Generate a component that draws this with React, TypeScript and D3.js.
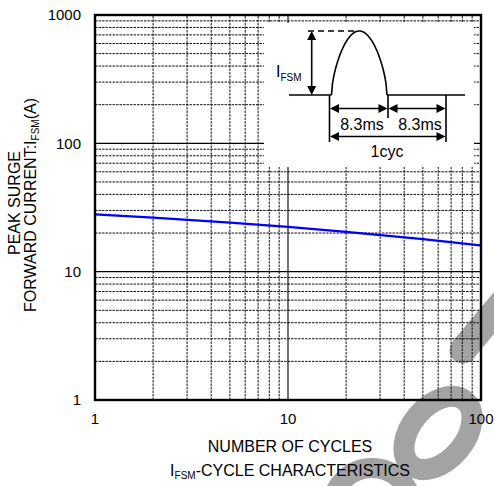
import React from "react";
import * as d3 from "d3";

const xDomain = [1, 100];
const yDomain = [1, 1000];
const xTicks = [1, 10, 100];
const yTicks = [1, 10, 100, 1000];
const cycles = [1, 2, 5, 10, 20, 50, 100];
const surgeCurrent = [28, 26.4, 24.1, 22.3, 20.4, 17.9, 16];

const W = 494;
const H = 486;
const font = "Arial, 'Liberation Sans', Helvetica, sans-serif";

function arrowHead(x: number, y: number, dir: "l" | "r" | "u" | "d", len = 9, half = 4.5) {
  if (dir === "r") return `M${x},${y}L${x - len},${y - half}L${x - len},${y + half}Z`;
  if (dir === "l") return `M${x},${y}L${x + len},${y - half}L${x + len},${y + half}Z`;
  if (dir === "u") return `M${x},${y}L${x - half},${y + len}L${x + half},${y + len}Z`;
  return `M${x},${y}L${x - half},${y - len}L${x + half},${y - len}Z`;
}

export default function App() {
  const x = d3.scaleLog().domain(xDomain).range([95, 481]);
  const y = d3.scaleLog().domain(yDomain).range([400, 15]);

  const minorX: number[] = [];
  for (const dec of [1, 10]) for (let k = 2; k <= 9; k++) minorX.push(dec * k);
  const minorY: number[] = [];
  for (const dec of [1, 10, 100]) for (let k = 2; k <= 9; k++) minorY.push(dec * k);

  const line = d3
    .line<number>()
    .x((_, i) => x(cycles[i]))
    .y((d) => y(d))
    .curve(d3.curveMonotoneX);

  const [x0, x1] = x.range();
  const [y0, y1] = y.range();

  // inset geometry
  const base = 95;
  const archL = 331.5, archR = 387, peakY = 31;
  const archPts: [number, number][] = [];
  for (let i = 0; i <= 60; i++) {
    const t = i / 60;
    const h = Math.pow(Math.sin(Math.PI * t), 0.6);
    archPts.push([archL + (archR - archL) * t, base - (base - peakY) * h]);
  }
  const arch = d3.line()(archPts) || "";
  const wm = "#a3a3a3";

  return (
    <svg width={W} height={H} style={{ position: "absolute", left: 0, top: 0, background: "#fff" }} fontFamily={font}>
      <rect x={0} y={0} width={W} height={H} fill="#fff" />
      {/* watermark */}
      <g fill="none" stroke={wm}>
        <ellipse cx={438} cy={433} rx={42} ry={27} transform="rotate(-50 438 433)" strokeWidth={21} />
        <line x1={463} y1={350} x2={505} y2={300} strokeWidth={27} strokeLinecap="round" />
        <circle cx={372} cy={508} r={40} strokeWidth={20} />
      </g>
      {/* minor grid */}
      {minorX.map((v) => (
        <line key={"mx" + v} x1={x(v)} x2={x(v)} y1={y0} y2={y1} stroke="#111" strokeWidth={1} strokeDasharray="2.5 1" />
      ))}
      {minorY.map((v) => (
        <line key={"my" + v} x1={x0} x2={x1} y1={y(v)} y2={y(v)} stroke="#111" strokeWidth={1} strokeDasharray="2.5 1" />
      ))}
      {/* major grid */}
      <line x1={x(10)} x2={x(10)} y1={y0} y2={y1} stroke="#000" strokeWidth={1.1} />
      {[10, 100].map((v) => (
        <line key={"My" + v} x1={x0} x2={x1} y1={y(v)} y2={y(v)} stroke="#000" strokeWidth={1.1} />
      ))}

      {/* inset white area */}
      <rect x={264} y={23} width={210} height={144} fill="#fff" />

      {/* data line */}
      <path d={line(surgeCurrent) || ""} fill="none" stroke="#0000ff" strokeWidth={2.3} />

      {/* frame */}
      <rect x={x0} y={y1} width={x1 - x0} height={y0 - y1} fill="none" stroke="#000" strokeWidth={2.4} />

      {/* inset drawing */}
      <g stroke="#000" fill="none" strokeWidth={1.6}>
        <line x1={289} x2={archL} y1={base} y2={base} />
        <line x1={archR} x2={465} y1={base} y2={base} />
        <path d={arch} />
        <line x1={308} x2={356} y1={peakY} y2={peakY} strokeDasharray="6 4" />
        <line x1={311.7} x2={311.7} y1={peakY + 6} y2={base - 6} />
        <line x1={329.5} x2={329.5} y1={base} y2={142} />
        <line x1={388} x2={388} y1={base} y2={118} />
        <line x1={446} x2={446} y1={base} y2={142} />
        <line x1={334} x2={383} y1={108.5} y2={108.5} />
        <line x1={393} x2={441} y1={108.5} y2={108.5} />
        <line x1={334} x2={441} y1={136.5} y2={136.5} />
      </g>
      <g fill="#000">
        <path d={arrowHead(311.7, peakY, "u")} />
        <path d={arrowHead(311.7, base, "d")} />
        <path d={arrowHead(330, 108.5, "l")} />
        <path d={arrowHead(387.5, 108.5, "r")} />
        <path d={arrowHead(388.5, 108.5, "l")} />
        <path d={arrowHead(445.5, 108.5, "r")} />
        <path d={arrowHead(330, 136.5, "l")} />
        <path d={arrowHead(445.5, 136.5, "r")} />
      </g>
      <text x={276} y={77} fontSize={16} fill="#000">
        I<tspan fontSize={10} dy={4}>FSM</tspan>
      </text>
      <text x={362} y={130} fontSize={16} textAnchor="middle" fill="#000">8.3ms</text>
      <text x={420} y={130} fontSize={16} textAnchor="middle" fill="#000">8.3ms</text>
      <text x={387} y={157} fontSize={16} textAnchor="middle" fill="#000">1cyc</text>

      {/* tick labels */}
      {yTicks.map((v) => (
        <text key={"yt" + v} x={81} y={y(v)} dy="0.35em" fontSize={15} textAnchor="end" fill="#000">
          {d3.format("d")(v)}
        </text>
      ))}
      {xTicks.map((v) => (
        <text key={"xt" + v} x={x(v)} y={419} dy="0.35em" fontSize={15} textAnchor="middle" fill="#000">
          {d3.format("d")(v)}
        </text>
      ))}

      {/* axis titles */}
      <text x={290} y={452} fontSize={16} textAnchor="middle" fill="#000">NUMBER OF CYCLES</text>
      <text x={290} y={476} fontSize={16} textAnchor="middle" fill="#000">
        I<tspan fontSize={10} dy={3}>FSM</tspan><tspan dy={-3}>-CYCLE CHARACTERISTICS</tspan>
      </text>
      <text transform="translate(20,203) rotate(-90)" fontSize={16} textAnchor="middle" fill="#000">PEAK SURGE</text>
      <text transform="translate(36,205) rotate(-90)" fontSize={16} textAnchor="middle" fill="#000">
        FORWARD CURRENT:I<tspan fontSize={10} dy={3}>FSM</tspan><tspan dy={-3}>(A)</tspan>
      </text>
    </svg>
  );
}
